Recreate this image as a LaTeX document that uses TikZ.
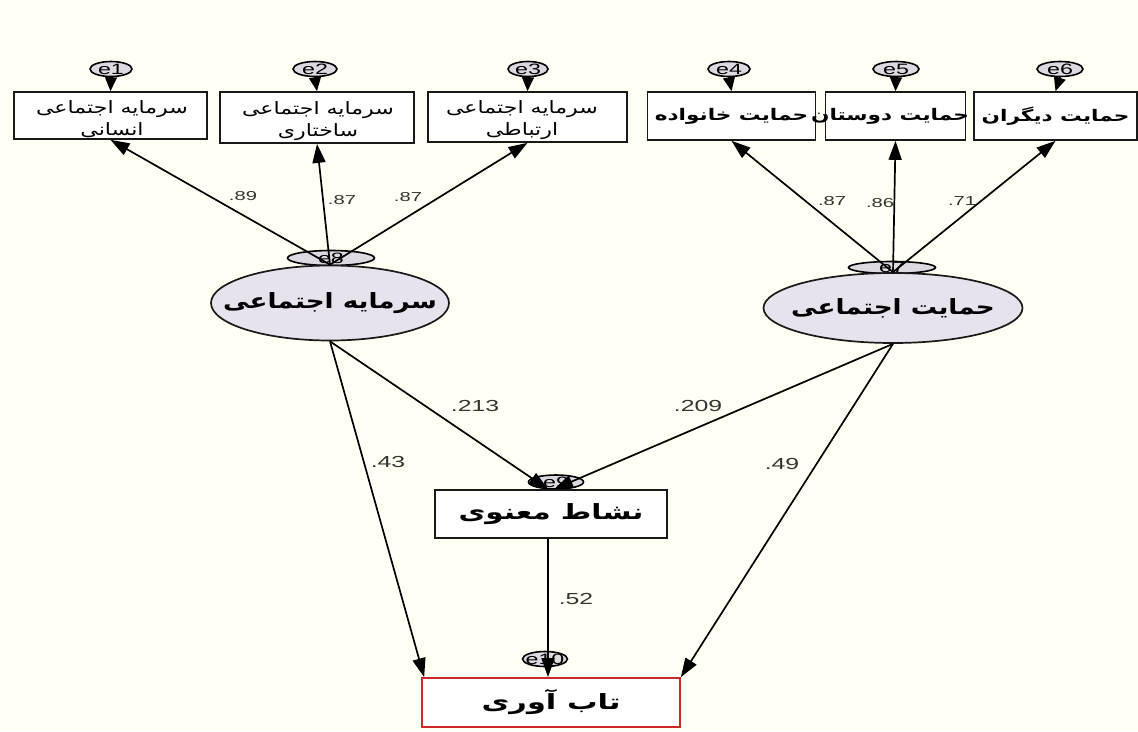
\documentclass[tikz,border=0pt]{standalone}
\usepackage{fontspec}
\usepackage{graphicx}
\setmainfont{Liberation Sans}
\newfontfamily\arabicfont[Script=Arabic]{DejaVu Sans}
\TeXXeTstate=1
\usetikzlibrary{arrows.meta,shapes.geometric}
\newcommand{\faw}[2]{\scalebox{#1}[1]{\arabicfont #2}}
\newcommand{\wide}[1]{\scalebox{1.55}[1]{#1}}
\definecolor{bgc}{RGB}{255,255,244}
\definecolor{latfill}{RGB}{232,226,236}
\definecolor{errfill}{RGB}{222,216,224}
\definecolor{redb}{RGB}{205,40,40}
\tikzset{
  obs/.style={rectangle, draw=black!90, fill=white, line width=1.7pt, inner sep=0pt},
  obstxt/.style={font=\fontsize{17}{22}\selectfont, align=center, inner sep=0pt},
  obsbold/.style={font=\fontsize{16}{18}\selectfont\bfseries, inner sep=0pt},
  lat/.style={ellipse, draw=black!90, fill=latfill, line width=1.7pt, inner sep=0pt},
  big/.style={font=\fontsize{21}{24}\selectfont\bfseries, inner sep=0pt},
  err/.style={ellipse, draw=black, fill=errfill, line width=1.6pt, inner sep=0pt},
  errtxt/.style={font=\fontsize{15}{15}\selectfont, inner sep=0pt},
  arr/.style={-{Triangle[length=19pt,width=13pt]}, line width=1.7pt},
  earr/.style={-{Triangle[length=14pt,width=12pt]}, line width=1.7pt},
  lbl/.style={text=black!80, font=\fontsize{13}{14}\selectfont, inner sep=0pt},
  lblb/.style={text=black!80, font=\fontsize{16}{16}\selectfont, inner sep=0pt}
}
\begin{document}
\begin{tikzpicture}[x=1pt,y=-1pt]
\useasboundingbox (0,0) rectangle (1138,731);
\fill[bgc] (0,0) rectangle (1138,731);

% observed indicators
\node[obs, minimum width=193pt, minimum height=47pt] (b1) at (110.5,115.5) {};
\node[obstxt] (t1) at (112,119) {\faw{1.3}{\beginR سرمایه اجتماعی\endR}\\\faw{1.3}{\beginR انسانی\endR}};
\node[obs, minimum width=194pt, minimum height=51pt] (b2) at (317,117.5) {};
\node[obstxt] (t2) at (318,121) {\faw{1.3}{\beginR سرمایه اجتماعی\endR}\\\faw{1.3}{\beginR ساختاری\endR}};
\node[obs, minimum width=199pt, minimum height=50pt] (b3) at (527.5,117) {};
\node[obstxt] (t3) at (522,120.5) {\faw{1.3}{\beginR سرمایه اجتماعی\endR}\\\faw{1.3}{\beginR ارتباطی\endR}};
\node[obs, minimum width=168pt, minimum height=48pt] (b4) at (731.5,116) {};
\node[obsbold] (t4) at (b4) {\faw{1.35}{\beginR حمایت خانواده\endR}};
\node[obs, minimum width=140pt, minimum height=48pt] (b5) at (895.5,116) {};
\node[obsbold] (t5) at (890,116) {\faw{1.35}{\beginR حمایت دوستان\endR}};
\node[obs, minimum width=163pt, minimum height=48pt] (b6) at (1055.5,116) {};
\node[obsbold] (t6) at (b6) {\faw{1.35}{\beginR حمایت دیگران\endR}};

% error terms of indicators
\node[err, minimum width=42pt, minimum height=15pt] (e1) at (111,69) {};
\node[err, minimum width=44pt, minimum height=15pt] (e2) at (315,69) {};
\node[err, minimum width=40pt, minimum height=15pt] (e3) at (528,69) {};
\node[err, minimum width=42pt, minimum height=15pt] (e4) at (729,69) {};
\node[err, minimum width=46pt, minimum height=15pt] (e5) at (896,69) {};
\node[err, minimum width=46pt, minimum height=15pt] (e6) at (1060,69) {};
\foreach \i in {1,...,6} {
  \node[errtxt] (et\i) at (e\i) {\wide{e\i}};
  \draw[earr] (e\i.south) -- (b\i.north);
}

% latent variables
\node[err, minimum width=87pt, minimum height=15pt] (e8) at (331,258) {};
\node[errtxt] (et8) at (e8) {\wide{e8}};
\node[err, minimum width=87pt, minimum height=12pt] (e7) at (892,267.5) {};
\node[errtxt] (et7) at (e7) {\wide{e7}};
\node[lat, minimum width=238pt, minimum height=75pt] (l1) at (330,303) {};
\node[big] (lt1) at (l1) {\faw{1.25}{\beginR سرمایه اجتماعی\endR}};
\node[lat, minimum width=259pt, minimum height=70pt] (l2) at (893,308) {};
\node[big] (lt2) at (l2) {\faw{1.25}{\beginR حمایت اجتماعی\endR}};

% mediator and outcome
\node[err, minimum width=55pt, minimum height=14pt] (e9) at (556,482) {};
\node[errtxt] (et9) at (e9) {\wide{e9}};
\node[obs, minimum width=232pt, minimum height=48pt] (m) at (551,514) {};
\node[big] (mt) at (m) {\faw{1.4}{\beginR نشاط معنوی\endR}};
\node[err, minimum width=45pt, minimum height=15pt] (e10) at (545,659) {};
\node[errtxt] (et10) at (e10) {\wide{e10}};
\node[obs, draw=redb, minimum width=258pt, minimum height=49pt] (y) at (551,702.5) {};
\node[big] (yt) at (y) {\faw{1.45}{\beginR تاب آوری\endR}};

% loadings
\foreach \i in {1,2,3} \draw[arr] (l1.north) -- (b\i.south);
\foreach \i in {4,5,6} \draw[arr] (l2.north) -- (b\i.south);

% structural paths
\draw[arr] (l1.south) -- ([xshift=-3pt]m.north);
\draw[arr] (l2.south) -- ([xshift=3pt]m.north);
\draw[arr] (l1.south) -- ([xshift=3pt]y.north west);
\draw[arr] (l2.south) -- (y.north east);
\draw[arr] ([xshift=-3pt]m.south) -- ([xshift=-3pt]y.north);

% coefficients
\node[lbl] at (243,196) {\wide{.89}};
\node[lbl] at (342,200) {\wide{.87}};
\node[lbl] at (408,197) {\wide{.87}};
\node[lbl] at (832,201) {\wide{.87}};
\node[lbl] at (880,203) {\wide{.86}};
\node[lbl] at (962,201) {\wide{.71}};
\node[lblb] at (475,406) {\wide{.213}};
\node[lblb] at (698,406) {\wide{.209}};
\node[lblb] at (388,462) {\wide{.43}};
\node[lblb] at (782,464) {\wide{.49}};
\node[lblb] at (576,599) {\wide{.52}};
\end{tikzpicture}
\end{document}
